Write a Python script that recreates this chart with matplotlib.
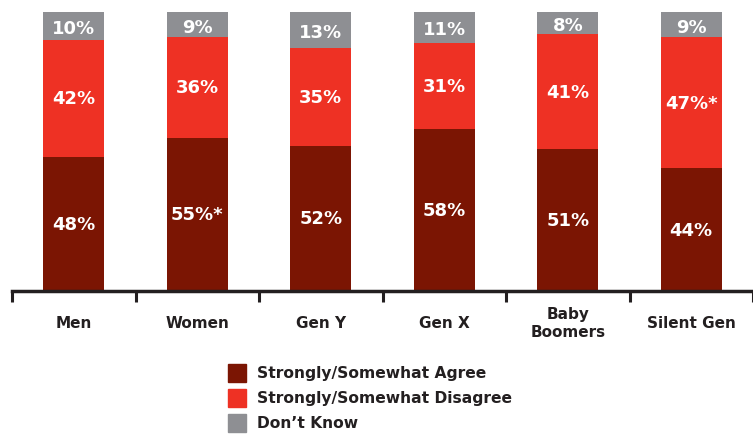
import matplotlib
matplotlib.use("Agg")
import matplotlib.pyplot as plt
from matplotlib.patches import Rectangle
import numpy as np

categories = ["Men", "Women", "Gen Y", "Gen X", "Baby\nBoomers", "Silent Gen"]
agree = [48, 55, 52, 58, 51, 44]
disagree = [42, 36, 35, 31, 41, 47]
dont_know = [10, 9, 13, 11, 8, 9]
agree_labels = ["48%", "55%*", "52%", "58%", "51%", "44%"]
disagree_labels = ["42%", "36%", "35%", "31%", "41%", "47%*"]
dk_labels = ["10%", "9%", "13%", "11%", "8%", "9%"]
series_names = ["Strongly/Somewhat Agree", "Strongly/Somewhat Disagree", "Don\u2019t Know"]

c_agree = "#7B1503"
c_dis = "#EE3124"
c_dk = "#8E8F93"
c_text = "#231F20"
plt.rcParams['font.family'] = ['DejaVu Sans']

W, H = 753, 435
fig = plt.figure(figsize=(W / 100, H / 100), dpi=100)
ax = fig.add_axes([12 / W, 1 - 292 / H, 741 / W, 279 / H])

x = np.arange(len(categories))
bw = 0.495
b1 = ax.bar(x, agree, bw, color=c_agree)
b2 = ax.bar(x, disagree, bw, bottom=agree, color=c_dis)
b3 = ax.bar(x, dont_know, bw, bottom=np.array(agree) + np.array(disagree), color=c_dk)

for i in range(len(categories)):
    ax.text(x[i], agree[i] / 2, agree_labels[i], ha="center", va="center",
            color="white", fontsize=13, fontweight="bold")
    ax.text(x[i], agree[i] + disagree[i] / 2, disagree_labels[i], ha="center", va="center",
            color="white", fontsize=13, fontweight="bold")
    ax.text(x[i], agree[i] + disagree[i] + dont_know[i] / 2 - 0.7, dk_labels[i], ha="center",
            va="center", color="white", fontsize=13, fontweight="bold")
    ax.text(x[i], -11.3, categories[i], ha="center", va="center", color=c_text,
            fontsize=11, fontweight="bold", linespacing=1.25, clip_on=False)

ax.set_xlim(-0.5, 5.5)
ax.set_ylim(0, 100)
for s in ["top", "right", "left"]:
    ax.spines[s].set_visible(False)
ax.spines["bottom"].set_linewidth(2.5)
ax.spines["bottom"].set_color(c_text)
ax.set_yticks([])
ax.set_xticks([])
ax.set_xticks(np.arange(-0.5, 6.0, 1.0), minor=True)
ax.tick_params(axis="x", which="minor", length=8, width=2.2, color=c_text, direction="out")

# legend
colors = [c_agree, c_dis, c_dk]
ys = [374, 399, 424]
for col, name, yc in zip(colors, series_names, ys):
    sq = 18
    fig.add_artist(Rectangle((228 / W, 1 - (yc + sq / 2) / H), sq / W, sq / H,
                             transform=fig.transFigure, color=col))
    fig.text(257 / W, 1 - yc / H, name, ha="left", va="center", color=c_text,
             fontsize=11.2, fontweight="bold")

fig.savefig("out.png", dpi=100)
